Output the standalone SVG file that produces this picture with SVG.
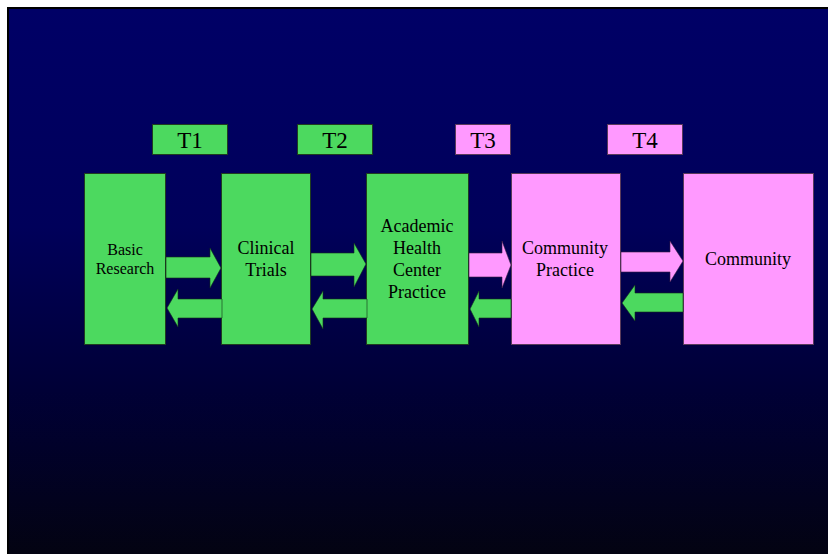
<svg xmlns="http://www.w3.org/2000/svg" width="828" height="554" viewBox="0 0 828 554">
  <defs>
    <linearGradient id="bg" x1="0" y1="0" x2="0" y2="1">
      <stop offset="0" stop-color="#000066"/>
      <stop offset="0.4" stop-color="#00005a"/>
      <stop offset="0.7" stop-color="#000036"/>
      <stop offset="1" stop-color="#030312"/>
    </linearGradient>
    <style>
      .g { fill: #4cd95f; stroke: #1f3d1f; stroke-width: 1; }
      .p { fill: #ff99ff; stroke: #5a3a5a; stroke-width: 1; }
      .ag { fill: #4cd95f; stroke: #10301a; stroke-width: 0.6; }
      .ap { fill: #ff99ff; stroke: #3a2040; stroke-width: 0.6; }
      text { font-family: "Liberation Serif", "Times New Roman", serif; fill: #000; text-anchor: middle; }
      .t { font-size: 23px; }
      .n { font-size: 18px; }
      .s { font-size: 16px; }
    </style>
  </defs>
  <rect x="0" y="0" width="828" height="554" fill="#ffffff"/>
  <rect x="7" y="7" width="821" height="547" fill="#000000"/>
  <rect x="9" y="9" width="819" height="545" fill="url(#bg)"/>

  <g id="T1"><rect class="g" x="152.5" y="124.5" width="75" height="30"/><text class="t" x="190" y="148">T1</text></g>
  <g id="T2"><rect class="g" x="297.5" y="124.5" width="75" height="30"/><text class="t" x="335" y="148">T2</text></g>
  <g id="T3"><rect class="p" x="455.5" y="124.5" width="55" height="30"/><text class="t" x="483" y="148">T3</text></g>
  <g id="T4"><rect class="p" x="607.5" y="124.5" width="75" height="30"/><text class="t" x="645" y="148">T4</text></g>

  <g id="basic-research"><rect class="g" x="84.5" y="173.5" width="81" height="171"/>
    <text class="s" x="125" y="255">Basic</text><text class="s" x="125" y="274">Research</text></g>
  <g id="clinical-trials"><rect class="g" x="221.5" y="173.5" width="89" height="171"/>
    <text class="n" x="266" y="254">Clinical</text><text class="n" x="266" y="276">Trials</text></g>
  <g id="academic-health-center-practice"><rect class="g" x="366.5" y="173.5" width="102" height="171"/>
    <text class="n" x="417" y="232">Academic</text><text class="n" x="417" y="254">Health</text>
    <text class="n" x="417" y="276">Center</text><text class="n" x="417" y="298">Practice</text></g>
  <g id="community-practice"><rect class="p" x="511.5" y="173.5" width="109" height="171"/>
    <text class="n" x="565" y="254">Community</text><text class="n" x="565" y="276">Practice</text></g>
  <g id="community"><rect class="p" x="683.5" y="173.5" width="130" height="171"/>
    <text class="n" x="748" y="265">Community</text></g>

  <g id="connectors">
    <polygon class="ag" points="166,257 210,257 210,248 221,268 210,288 210,278 166,278"/>
    <polygon class="ag" points="222,299 178,299 178,289 167,308 178,327 178,318 222,318"/>
    <polygon class="ag" points="311,253 354,253 354,243 366,264 354,287 354,276 311,276"/>
    <polygon class="ag" points="367,299 323,299 323,291 312,309 323,329 323,318 367,318"/>
    <polygon class="ap" points="469,253 502,253 502,241 511,265 502,288 502,277 469,277"/>
    <polygon class="ag" points="511,299 479,299 479,291 470,309 479,327 479,318 511,318"/>
    <polygon class="ap" points="621,252 670,252 670,241 683,261 670,282 670,272 621,272"/>
    <polygon class="ag" points="683,293 635,293 635,285 622,303 635,321 635,312 683,312"/>
  </g>
</svg>
